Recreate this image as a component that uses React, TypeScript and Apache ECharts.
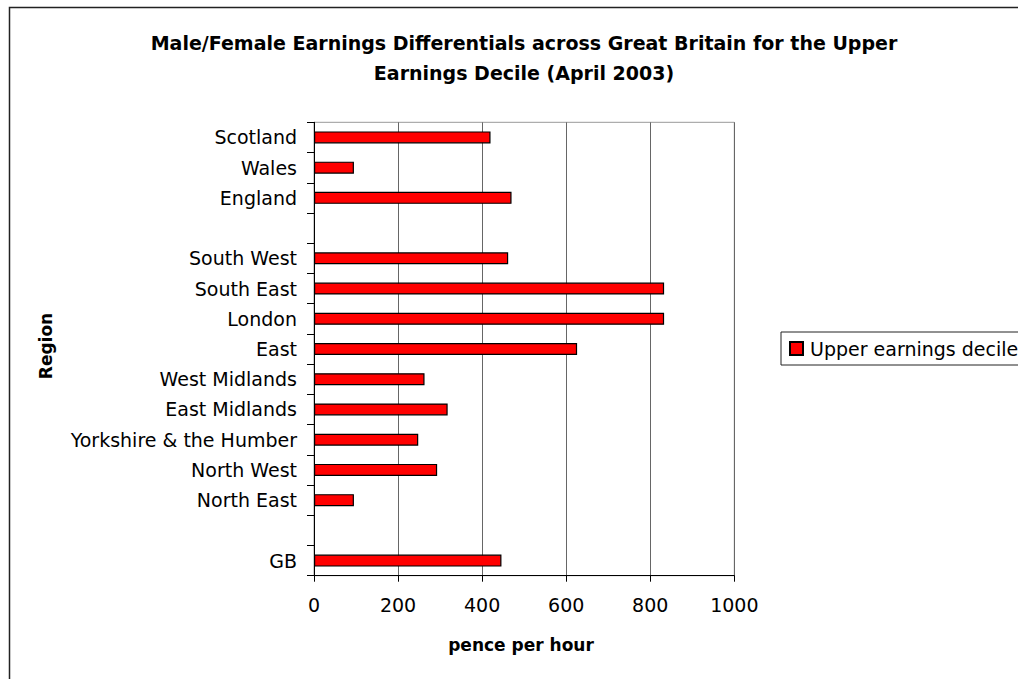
import React, { useEffect, useRef } from "react";
import * as echarts from "echarts";

const regions = [
  "GB",
  " ",
  "North East",
  "North West",
  "Yorkshire & the Humber",
  "East Midlands",
  "West Midlands",
  "East",
  "London",
  "South East",
  "South West",
  "  ",
  "England",
  "Wales",
  "Scotland",
];

const upperDecile: (number | null)[] = [
  446, null, 95, 293, 248, 318, 263, 626, 833, 833, 462, null, 470, 95, 420,
];

const xTicks = { min: 0, max: 1000, interval: 200 };

const titleText =
  "Male/Female Earnings Differentials across Great Britain for the Upper\nEarnings Decile (April 2003)";
const seriesName = "Upper earnings decile";
const xName = "pence per hour";
const yName = "Region";

const FONT = "DejaVu Sans";

export default function App() {
  const ref = useRef<HTMLDivElement>(null);
  useEffect(() => {
    document.body.style.margin = "0";
    const chart = echarts.init(ref.current!, null, { renderer: "svg" });
    chart.setOption({
      animation: false,
      backgroundColor: "#fff",
      grid: {
        left: 314,
        top: 122.3,
        width: 420.3,
        height: 453.4,
        show: true,
        borderColor: "#999",
        borderWidth: 1,
        containLabel: false,
      },
      legend: {
        left: 781,
        top: 332,
        orient: "vertical",
        padding: [7, 40, 7, 8],
        itemWidth: 13,
        itemHeight: 13,
        itemGap: 8,
        icon: "rect",
        borderColor: "#222",
        borderWidth: 1,
        backgroundColor: "#fff",
        textStyle: { fontFamily: FONT, fontSize: 19, color: "#000", padding: [0, 0, 0, 2] },
        data: [seriesName],
      },
      xAxis: {
        type: "value",
        min: xTicks.min,
        max: xTicks.max,
        interval: xTicks.interval,
        axisLine: { show: true, lineStyle: { color: "#000", width: 1 } },
        axisTick: { show: true, length: 6, lineStyle: { color: "#000" } },
        axisLabel: {
          fontFamily: FONT,
          fontSize: 19,
          color: "#000",
          margin: 20,
          formatter: (v: number) => String(v),
        },
        splitLine: { show: true, lineStyle: { color: "#666", width: 1 } },
      },
      yAxis: {
        type: "category",
        data: regions,
        axisLine: { show: true, lineStyle: { color: "#000", width: 1 } },
        axisTick: { show: true, length: 7, lineStyle: { color: "#000" } },
        axisLabel: {
          fontFamily: FONT,
          fontSize: 19,
          color: "#000",
          margin: 17,
        },
        splitLine: { show: false },
      },
      series: [
        {
          name: seriesName,
          type: "bar",
          data: upperDecile,
          barWidth: 12,
          itemStyle: { color: "#ff0000", borderColor: "#000", borderWidth: 1.2 },
        },
      ],
      graphic: [
        {
          type: "rect",
          shape: { x: 9.5, y: 7.5, width: 1100, height: 800 },
          style: { fill: "none", stroke: "#222", lineWidth: 1.5 },
          silent: true,
          z: -10,
        },
        {
          type: "text",
          x: 524,
          y: 58,
          style: {
            text: titleText,
            fontFamily: FONT,
            fontSize: 19,
            fontWeight: "bold",
            fill: "#000",
            align: "center",
            verticalAlign: "middle",
            lineHeight: 30,
          },
        },
        {
          type: "text",
          x: 46,
          y: 346,
          rotation: Math.PI / 2,
          style: {
            text: yName,
            fontFamily: FONT,
            fontSize: 17,
            fontWeight: "bold",
            fill: "#000",
            align: "center",
            verticalAlign: "middle",
          },
        },
        {
          type: "text",
          x: 521,
          y: 645,
          style: {
            text: xName,
            fontFamily: FONT,
            fontSize: 17,
            fontWeight: "bold",
            fill: "#000",
            align: "center",
            verticalAlign: "middle",
          },
        },
      ],
    });
    return () => chart.dispose();
  }, []);
  return (
    <div
      ref={ref}
      style={{ position: "absolute", left: 0, top: 0, width: 1018, height: 679 }}
    />
  );
}
